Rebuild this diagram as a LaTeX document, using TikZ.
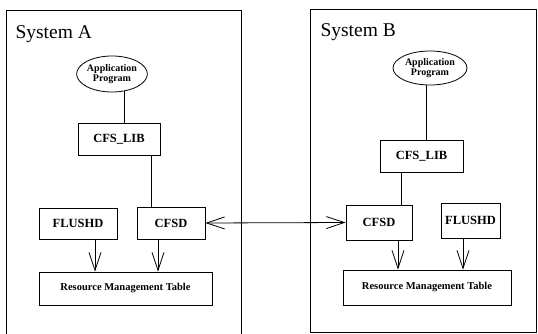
\documentclass[tikz,border=0pt]{standalone}
\usepackage{fontspec}
\setmainfont{Liberation Serif}
\usepackage{tikz}
\usetikzlibrary{shapes.geometric,arrows.meta}

\tikzset{
	box/.style={draw, line width=0.8pt, inner sep=0pt, font=\fontsize{12.5}{12.5}\selectfont\bfseries},
	prog/.style={draw, ellipse, line width=0.8pt, inner sep=0pt, align=center, font=\fontsize{10}{10.5}\selectfont\bfseries},
	table/.style={box, font=\fontsize{10.5}{10.5}\selectfont\bfseries},
	frame/.style={line width=0.9pt},
	vee/.style={line width=0.8pt, -{Straight Barb[length=18pt,width=12pt,line width=0.8pt]}},
}

\begin{document}
\begin{tikzpicture}[x=1pt, y=-1pt]
		\useasboundingbox (0, 0) rectangle (538, 334);

		% 两个系统
		\draw[frame] (6, 336) |- (241, 10) -- (241, 336);
		\draw[frame] (310, 9) rectangle (536, 332);
		\node[anchor=base west, font=\fontsize{19.5}{19.5}\selectfont] (sysA) at (12, 39) {System A};
		\node[anchor=base west, font=\fontsize{19.5}{19.5}\selectfont] (sysB) at (317, 37) {System B};

		% System A
		\node[prog, minimum width=68pt, minimum height=36pt] (appA) at (112, 74) {Application\\Program};
		\node[box, minimum width=82pt, minimum height=32pt] (libA) at (119, 139) {CFS\_LIB};
		\node[box, minimum width=78pt, minimum height=31pt] (flushA) at (78, 223.5) {FLUSHD};
		\node[box, minimum width=68pt, minimum height=32pt] (cfsdA) at (171, 223) {CFSD};
		\node[table, minimum width=173pt, minimum height=33pt] (rmtA) at (125.5, 288.5) {Resource Management Table};

		\draw[line width=0.8pt] (appA.-55) -- (appA.-55 |- libA.north);
		\draw[line width=0.8pt] ([xshift=-9pt]libA.south east) -- ([xshift=-9pt]libA.south east |- cfsdA.north);
		\draw[vee] ([xshift=17pt]flushA.south) -- ([xshift=17pt]flushA.south |- rmtA.north);
		\draw[vee] ([xshift=-13pt]cfsdA.south) -- ([xshift=-13pt]cfsdA.south |- rmtA.north);

		% System B
		\node[prog, minimum width=74pt, minimum height=34pt] (appB) at (430, 68) {Application\\Program};
		\node[box, minimum width=83pt, minimum height=32pt] (libB) at (421.5, 156) {CFS\_LIB};
		\node[box, minimum width=66pt, minimum height=35pt] (cfsdB) at (379, 222.5) {CFSD};
		\node[box, minimum width=59pt, minimum height=35pt] (flushB) at (470.5, 220.5) {FLUSHD};
		\node[table, minimum width=168pt, minimum height=35pt] (rmtB) at (427, 287.5) {Resource Management Table};

		\draw[line width=0.8pt] ([xshift=-4pt]appB.south) -- ([xshift=-4pt]appB.south |- libB.north);
		\draw[line width=0.8pt] ([xshift=-20.5pt]libB.south) -- ([xshift=-20.5pt]libB.south |- cfsdB.north);
		\draw[vee] ([xshift=19pt]cfsdB.south) -- ([xshift=19pt]cfsdB.south |- rmtB.north);
		\draw[vee] ([xshift=-7.5pt]flushB.south) -- ([xshift=-7.5pt]flushB.south |- rmtB.north);

		% 两个 CFSD 之间
		\draw[line width=0.8pt, {Straight Barb[length=18pt,width=12pt,line width=0.8pt]}-{Straight Barb[length=18pt,width=12pt,line width=0.8pt]}] (cfsdA.east) -- (cfsdB.west);
	\end{tikzpicture}
\end{document}
